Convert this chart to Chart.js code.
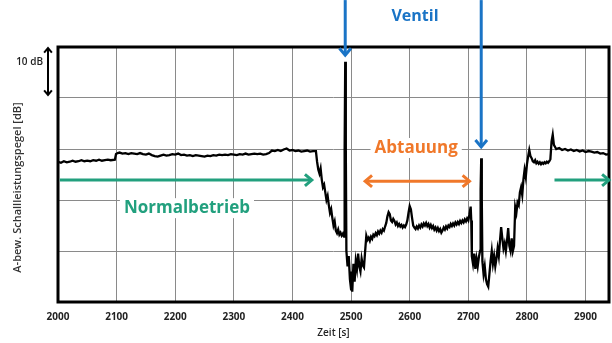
<!DOCTYPE html>
<html><head><meta charset="utf-8">
<script src="https://cdn.jsdelivr.net/npm/chart.js@4/dist/chart.umd.min.js"></script>
<style>html,body{margin:0;padding:0;background:#fff}#c{display:block}</style>
</head><body>
<canvas id="c" width="612" height="343"></canvas>
<script>
// ---- data ----
const times = [2000,2005,2010,2015,2020,2025,2030,2035,2040,2045,2050,2055,2060,2065,2070,2075,2080,2085,2090,2097,2099,2102,
2105,2110,2115,2120,2125,2130,2135,2140,2145,2150,2155,2160,2165,2170,2175,2180,2185,2190,2195,2200,2205,2210,2215,2220,2225,2230,2235,2240,2245,2250,2255,2260,2265,2270,2275,2280,2285,2290,2295,2300,2305,2310,2315,2320,2325,2330,2335,2340,2345,2350,2355,2360,2365,2370,2375,2380,2385,2390,2395,2400,2405,2410,2415,2420,2425,2430,2435,2440,
2442,2444,2446,2448,2450,2452,2454,2456,2458,2460,2462,2464,2466,2468,2470,2472,2474,2476,2478,2480,2482,2484,2486,2488,2489,2490,2491,2492,2494,2496,2498,2500,2501,2502,2504,2506,2508,2510,2512,2514,2516,2518,2520,2522,2524,2526,2528,2530,2532,2534,2536,2538,2540,2542,2544,2546,2548,2550,2552,2554,2556,2558,2560,2562,2564,2566,2568,2570,2572,2574,2576,2578,2580,2582,2584,2586,2588,2590,2592,2594,2596,2598,2600,2602,2604,2606,2608,2610,2612,2614,2616,2618,2620,2622,2624,2626,2628,2630,2632,2634,2636,2638,2640,2642,2644,2646,2648,2650,2652,2654,2656,2658,2660,2662,2664,2666,2668,2670,2672,2674,2676,2678,2680,2682,2684,2686,2688,2690,2692,2694,2696,2698,2700,2702,2704,2705,2706,2708,2710,2712,2714,2716,2718,2720,2721,2722,2723,2724,2726,2728,2730,2732,2734,2736,2738,2740,2742,2744,2746,2748,2750,2752,2754,2756,2758,2760,2762,2764,2766,2768,2770,2772,2774,2776,2778,2780,2782,2784,2786,2788,2790,2792,2794,2796,2798,2800,2802,2804,2806,2808,2810,2812,2814,2816,2818,2820,2822,2824,2826,2828,2830,2832,2834,2836,2838,2840,2842,2844,2846,2848,2850,2855,2860,2865,2870,2875,2880,2885,2890,2895,2900,2905,2910,2915,2920,2925,2930,2935,2940];
const levels = [27.5,27.3,27.6,27.4,27.5,27.7,27.5,27.6,27.8,27.6,27.7,27.6,27.8,27.7,27.9,27.7,27.8,27.9,27.8,27.9,29.0,29.2,
29.3,29.1,29.2,29.0,29.2,29.1,29.0,29.2,29.0,28.9,29.1,28.8,28.6,28.5,28.7,28.9,28.7,28.8,29.0,28.9,29.1,28.8,28.9,28.7,28.8,28.6,28.8,28.7,28.6,28.5,28.7,28.6,28.8,28.7,28.9,28.8,28.9,28.8,29.0,28.9,28.8,29.0,28.9,29.1,28.9,29.0,29.1,29.0,29.1,28.9,29.0,29.2,29.7,29.6,29.8,29.6,29.9,30.1,29.7,29.8,29.6,29.7,29.5,29.6,29.7,29.5,29.6,29.6,
27.5,26.0,25.2,26.2,24.0,22.5,23.0,21.5,20.0,20.8,19.0,17.5,18.2,16.5,15.0,15.8,14.0,13.5,14.2,13.2,13.6,13.0,13.4,12.8,30,47.1,30,10.0,7.0,9.0,4.5,2.5,6.0,2.0,7.5,4.0,8.0,6.5,9.5,7.0,6.0,8.5,7.2,6.8,10,13.0,12.2,12.6,12.0,12.8,12.4,13.2,12.9,13.5,13.1,13.8,13.4,14.0,13.6,14.3,14.0,14.8,15.5,16.8,17.6,17.2,16.0,15.7,16.3,15.9,15.2,15.6,14.9,15.3,14.8,15.1,14.6,15.0,14.7,15.2,16.0,17.5,18.8,18.2,16.5,15.0,14.6,14.3,14.8,14.4,15.0,14.6,15.2,14.8,15.4,15.0,15.5,14.9,15.3,14.6,15.1,14.5,14.9,14.2,14.6,14.0,14.5,13.9,14.3,13.6,14.0,14.6,14.2,14.8,14.4,15.0,14.7,15.3,14.9,15.4,15.0,15.6,15.2,15.7,15.3,15.9,15.5,16.0,15.6,16.2,15.8,16.4,16.0,17.2,18.7,16,9.0,7.5,9.5,6.5,8.5,7.0,8.8,10,22,28.2,20,8,5.5,7.0,4.5,3.5,3.0,5.5,8.0,10.0,7.5,9.0,7.0,8.5,10.5,9.0,12.0,14.7,12.5,10.5,11.5,10.0,12.0,14.5,11.0,10.0,12.5,10.0,11.0,18.6,17.5,19.5,19.0,21.5,22.5,21.0,24.0,25.9,24.5,27.0,28.5,29.8,28.6,28.2,27.6,27.4,27.8,27.2,27.5,27.1,27.4,27.0,27.3,27.1,27.4,27.2,27.5,27.3,27.6,28.0,31.5,32.8,30.8,30.4,30.0,30.2,29.8,30.0,29.7,29.9,29.6,29.8,29.5,29.7,29.4,29.6,29.5,29.3,29.4,29.1,29.2,28.9,29.0];
const xTickStep = 100;
const xMin = 2000, xMax = 2940;
const yMin = 0, yMax = 50, yStep = 10;
const xTitle = 'Zeit [s]';
const yTitle = 'A-bew. Schallleistungspegel [dB]';

// annotations in data coordinates
const ventilArrows = [{t:2490, from:59.2, to:48.4},{t:2722, from:59.2, to:30.4}];
const ventilLabel = {t:2609, v:55.9, text:'Ventil'};
const abtauArrow = {t1:2524, t2:2702, v:23.7};
const abtauLabel = {t:2611, v:30.2, text:'Abtauung'};
const normalArrows = [{t1:2003, t2:2433, v:23.9},{t1:2847, t2:2940, v:23.9}];
const normalLabel = {t:2220, v:18.4, text:'Normalbetrieb'};
const scaleBar = {from:50, to:40, text:'10 dB'};

const BLUE='#1a74c6', ORANGE='#f0782a', GREEN='#22a07e';

function head(ctx, x, y, ang, len){
  ctx.beginPath();
  ctx.moveTo(x - len*Math.cos(ang-0.7), y - len*Math.sin(ang-0.7));
  ctx.lineTo(x, y);
  ctx.lineTo(x - len*Math.cos(ang+0.7), y - len*Math.sin(ang+0.7));
  ctx.stroke();
}
function arrow(ctx, x1,y1,x2,y2,color,w,both,len){
  ctx.save();
  ctx.strokeStyle=color; ctx.lineWidth=w; ctx.lineCap='butt'; ctx.lineJoin='miter';
  ctx.beginPath(); ctx.moveTo(x1,y1); ctx.lineTo(x2,y2); ctx.stroke();
  const a=Math.atan2(y2-y1,x2-x1);
  head(ctx,x2,y2,a,len);
  if(both) head(ctx,x1,y1,a+Math.PI,len);
  ctx.restore();
}
function label(ctx, x, y, text, color, font, bg){
  ctx.save();
  ctx.font=font; ctx.textAlign='center'; ctx.textBaseline='middle';
  if(bg){
    const w=ctx.measureText(text).width+8;
    ctx.fillStyle='#fff'; ctx.fillRect(x-w/2,y-10,w,20);
  }
  ctx.fillStyle=color; ctx.fillText(text,x,y);
  ctx.restore();
}

const decor = {
  id:'decor',
  afterDatasetsDraw(chart){
    const {ctx, chartArea:a, scales:{x,y}} = chart;
    ctx.save();
    // frame
    ctx.strokeStyle='#000'; ctx.lineWidth=3;
    ctx.strokeRect(a.left, a.top, a.right-a.left, a.bottom-a.top);
    // Normalbetrieb
    normalArrows.forEach(n=>arrow(ctx,x.getPixelForValue(n.t1),y.getPixelForValue(n.v),x.getPixelForValue(n.t2),y.getPixelForValue(n.v),GREEN,3,false,9));
    label(ctx,x.getPixelForValue(normalLabel.t),y.getPixelForValue(normalLabel.v),normalLabel.text,GREEN,'bold 17px "Open Sans"',true);
    // Abtauung
    arrow(ctx,x.getPixelForValue(abtauArrow.t1),y.getPixelForValue(abtauArrow.v),x.getPixelForValue(abtauArrow.t2),y.getPixelForValue(abtauArrow.v),ORANGE,3,true,9);
    label(ctx,x.getPixelForValue(abtauLabel.t),y.getPixelForValue(abtauLabel.v),abtauLabel.text,ORANGE,'bold 17px "Open Sans"',true);
    // Ventil
    ventilArrows.forEach(v=>arrow(ctx,x.getPixelForValue(v.t),y.getPixelForValue(v.from),x.getPixelForValue(v.t),y.getPixelForValue(v.to),BLUE,3,false,9));
    label(ctx,x.getPixelForValue(ventilLabel.t),y.getPixelForValue(ventilLabel.v),ventilLabel.text,BLUE,'bold 16px "Open Sans"',false);
    // 10 dB bar
    const bx=a.left-10;
    arrow(ctx,bx,y.getPixelForValue(scaleBar.from)+1,bx,y.getPixelForValue(scaleBar.to)-3,'#000',2,true,6);
    ctx.font='600 10px "Open Sans"'; ctx.fillStyle='#222'; ctx.textAlign='right'; ctx.textBaseline='middle';
    ctx.fillText(scaleBar.text,bx-5,y.getPixelForValue(scaleBar.from)+15);
    // y title
    ctx.save();
    ctx.translate(18,(a.top+a.bottom)/2+13); ctx.rotate(-Math.PI/2);
    ctx.font='600 11px "Open Sans"'; ctx.fillStyle='#333'; ctx.textAlign='center'; ctx.textBaseline='middle';
    ctx.fillText(yTitle,0,0);
    ctx.restore();
    ctx.restore();
  }
};

new Chart(document.getElementById('c'),{
  type:'line',
  data:{datasets:[{data:times.map((t,i)=>({x:t,y:levels[i]})),borderColor:'#000',borderWidth:2.3,pointRadius:0,tension:0,fill:false}]},
  options:{
    responsive:false,animation:false,
    layout:{padding:{top:47,right:3,left:0,bottom:0}},
    plugins:{legend:{display:false},tooltip:{enabled:false}},
    scales:{
      x:{type:'linear',min:xMin,max:xMax,
        ticks:{stepSize:xTickStep,includeBounds:false,padding:9,color:'#222',font:{family:'"Open Sans"',size:10,weight:'bold'},callback:v=>String(v)},
        grid:{color:'#8a8a8a',lineWidth:1,drawTicks:false},
        border:{display:false},
        title:{display:true,text:xTitle,color:'#222',font:{family:'"Open Sans"',size:10,weight:'600'},padding:{top:0,bottom:4}},
        afterFit(s){s.height=41;}
      },
      y:{min:yMin,max:yMax,
        ticks:{display:false,stepSize:yStep},
        grid:{color:'#8a8a8a',lineWidth:1,drawTicks:false},
        border:{display:false},
        afterFit(s){s.width=58;}
      }
    }
  },
  plugins:[decor]
});
</script>
</body></html>
